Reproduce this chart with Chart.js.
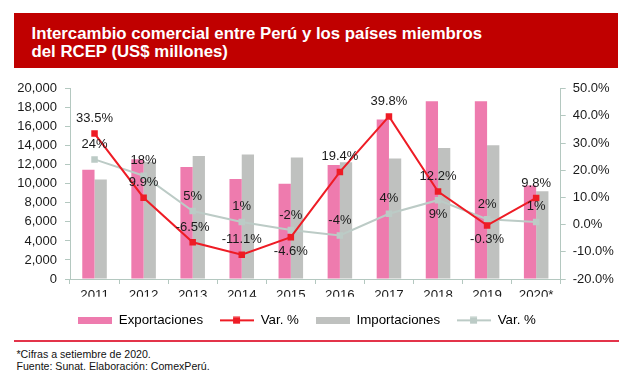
<!DOCTYPE html>
<html>
<head>
<meta charset="utf-8">
<script src="https://cdn.jsdelivr.net/npm/chart.js@4/dist/chart.umd.min.js"></script>
<style>
  html, body { margin: 0; padding: 0; background: #ffffff; }
  body { width: 630px; height: 382px; position: relative; overflow: hidden; font-family: 'Liberation Sans', Arial, sans-serif; }
  #banner { position: absolute; left: 14px; top: 13px; width: 604px; height: 55px; background: #c00000; }
  #title { position: absolute; left: 31.5px; top: 24.6px; color: #ffffff; font-weight: bold; font-size: 16.8px; line-height: 18px; white-space: nowrap; }
  #chartWrap { position: absolute; left: 0; top: 0; width: 630px; height: 337px; }
  #sep { position: absolute; left: 14px; top: 340px; width: 605px; height: 2px; background: #e3344a; }
  #notes { position: absolute; left: 16.5px; top: 348.4px; font-size: 10.6px; line-height: 12px; color: #111111; white-space: nowrap; }
</style>
</head>
<body>
<div id="banner"></div>
<div id="title">Intercambio comercial entre Perú y los países miembros<br>del RCEP (US$ millones)</div>
<div id="chartWrap"><canvas id="c" width="630" height="337"></canvas></div>
<div id="sep"></div>
<div id="notes">*Cifras a setiembre de 2020.<br>Fuente: Sunat. Elaboración: ComexPerú.</div>
<script>
// ---- data ----
const categories = ['2011', '2012', '2013', '2014', '2015', '2016', '2017', '2018', '2019', '2020*'];
const exportaciones = [11470, 12590, 11780, 10520, 10000, 11990, 16750, 18670, 18670, 9830];
const importaciones = [10450, 12310, 12940, 13080, 12760, 12270, 12660, 13780, 14060, 9230];
const varExport = [33.5, 9.9, -6.5, -11.1, -4.6, 19.4, 39.8, 12.2, -0.3, 9.8];
const varImport = [24, 18, 5, 1, -2, -4, 4, 9, 2, 1];
const leftTicks = [0, 2000, 4000, 6000, 8000, 10000, 12000, 14000, 16000, 18000, 20000];
const rightTicks = [-20, -10, 0, 10, 20, 30, 40, 50];

// ---- styles ----
const PINK = '#ee7bae';
const GRAYBAR = '#bfc1bf';
const RED = '#ee1c25';
const GRAYLINE = '#bccbc6';
const AXIS = '#b4c8c0';
const TEXT = '#1a1a1a';
// label placement (style): 'a' above point, 'b' below point
const posExport = ['a','a','a','a','b','a','a','a','b','a'];
const posImport = ['a','a','a','a','a','a','a','b','a','a'];

function boxImg(color) {
  const c = document.createElement('canvas');
  c.width = 34; c.height = 7;
  const g = c.getContext('2d');
  g.fillStyle = color; g.fillRect(0, 0, 34, 7);
  return c;
}
function lineImg(color) {
  const c = document.createElement('canvas');
  c.width = 34; c.height = 8;
  const g = c.getContext('2d');
  g.fillStyle = color;
  g.fillRect(0, 3, 34, 2);
  g.fillRect(13, 0.5, 7, 7);
  return c;
}

Chart.defaults.font.family = "'Liberation Sans', Arial, sans-serif";
Chart.defaults.font.size = 13;
Chart.defaults.color = TEXT;

const labelPlugin = {
  id: 'pointLabels',
  afterDatasetsDraw(chart) {
    const ctx = chart.ctx;
    ctx.save();
    ctx.font = "13px 'Liberation Sans', Arial, sans-serif";
    ctx.fillStyle = TEXT;
    ctx.textAlign = 'center';
    ctx.textBaseline = 'middle';
    chart.data.datasets.forEach((ds, di) => {
      if (!ds.labelPos) return;
      const meta = chart.getDatasetMeta(di);
      meta.data.forEach((pt, i) => {
        const v = ds.data[i];
        const dy = ds.labelPos[i] === 'a' ? -15 : 14;
        ctx.fillText(v + '%', pt.x, pt.y + dy);
      });
    });
    ctx.restore();
  }
};
const legendShift = {
  id: 'legendShift',
  afterLayout(chart) {
    const lg = chart.legend;
    if (lg) { lg.left -= 8; lg.right -= 8; }
  }
};

new Chart(document.getElementById('c'), {
  data: {
    labels: categories,
    datasets: [
      { type: 'bar', label: 'Exportaciones', data: exportaciones, backgroundColor: PINK, yAxisID: 'y', order: 2,
        categoryPercentage: 0.5, barPercentage: 1.0, legendImg: boxImg(PINK) },
      { type: 'line', label: 'Var. %', data: varExport, borderColor: RED, backgroundColor: RED, borderWidth: 2,
        pointStyle: 'rect', pointRadius: 4.6, pointBorderWidth: 0, pointBackgroundColor: RED, yAxisID: 'y1', order: 0,
        tension: 0, labelPos: posExport, legendImg: lineImg(RED) },
      { type: 'bar', label: 'Importaciones', data: importaciones, backgroundColor: GRAYBAR, yAxisID: 'y', order: 2,
        categoryPercentage: 0.5, barPercentage: 1.0, legendImg: boxImg(GRAYBAR) },
      { type: 'line', label: 'Var. %', data: varImport, borderColor: GRAYLINE, backgroundColor: GRAYLINE, borderWidth: 2,
        pointStyle: 'rect', pointRadius: 4.6, pointBorderWidth: 0, pointBackgroundColor: GRAYLINE, yAxisID: 'y1', order: 1,
        tension: 0, labelPos: posImport, legendImg: lineImg(GRAYLINE) }
    ]
  },
  options: {
    responsive: false,
    animation: false,
    events: [],
    layout: { padding: { top: 88.7, left: 0, right: 0, bottom: 0 } },
    plugins: {
      tooltip: { enabled: false },
      title: { display: false },
      legend: {
        position: 'bottom',
        labels: {
          usePointStyle: true,
          pointStyleWidth: 34,
          boxHeight: 8,
          padding: 17,
          color: TEXT,
          font: { size: 13.3 },
          generateLabels(chart) {
            return chart.data.datasets.map((ds, i) => ({
              text: ds.label, datasetIndex: i, pointStyle: ds.legendImg,
              fillStyle: ds.backgroundColor, strokeStyle: ds.backgroundColor, lineWidth: 0, hidden: false
            }));
          }
        }
      }
    },
    scales: {
      x: {
        offset: true,
        grid: { display: true, drawOnChartArea: false, offset: true, color: AXIS, tickLength: 5 },
        border: { color: AXIS, width: 1 },
        ticks: { padding: 3, color: TEXT, font: { size: 13.3 } },
        afterFit(s) { s.height = 17.7; }
      },
      y: {
        position: 'left', min: 0, max: 20000,
        grid: { display: true, drawOnChartArea: false, color: AXIS, tickLength: 5 },
        border: { color: AXIS, width: 1 },
        afterBuildTicks(s) { s.ticks = leftTicks.map(v => ({ value: v })); },
        ticks: { padding: 8, color: TEXT, font: { size: 13 }, callback: v => v.toLocaleString('en-US') },
        afterFit(s) { s.width = 70; }
      },
      y1: {
        position: 'right', min: -20, max: 50,
        grid: { display: true, drawOnChartArea: false, color: AXIS, tickLength: 5 },
        border: { color: AXIS, width: 1 },
        afterBuildTicks(s) { s.ticks = rightTicks.map(v => ({ value: v })); },
        ticks: { padding: 7, color: TEXT, font: { size: 13 }, callback: v => v.toFixed(1) + '%' },
        afterFit(s) { s.width = 69.3; }
      }
    }
  },
  plugins: [labelPlugin, legendShift]
});
</script>
</body>
</html>
